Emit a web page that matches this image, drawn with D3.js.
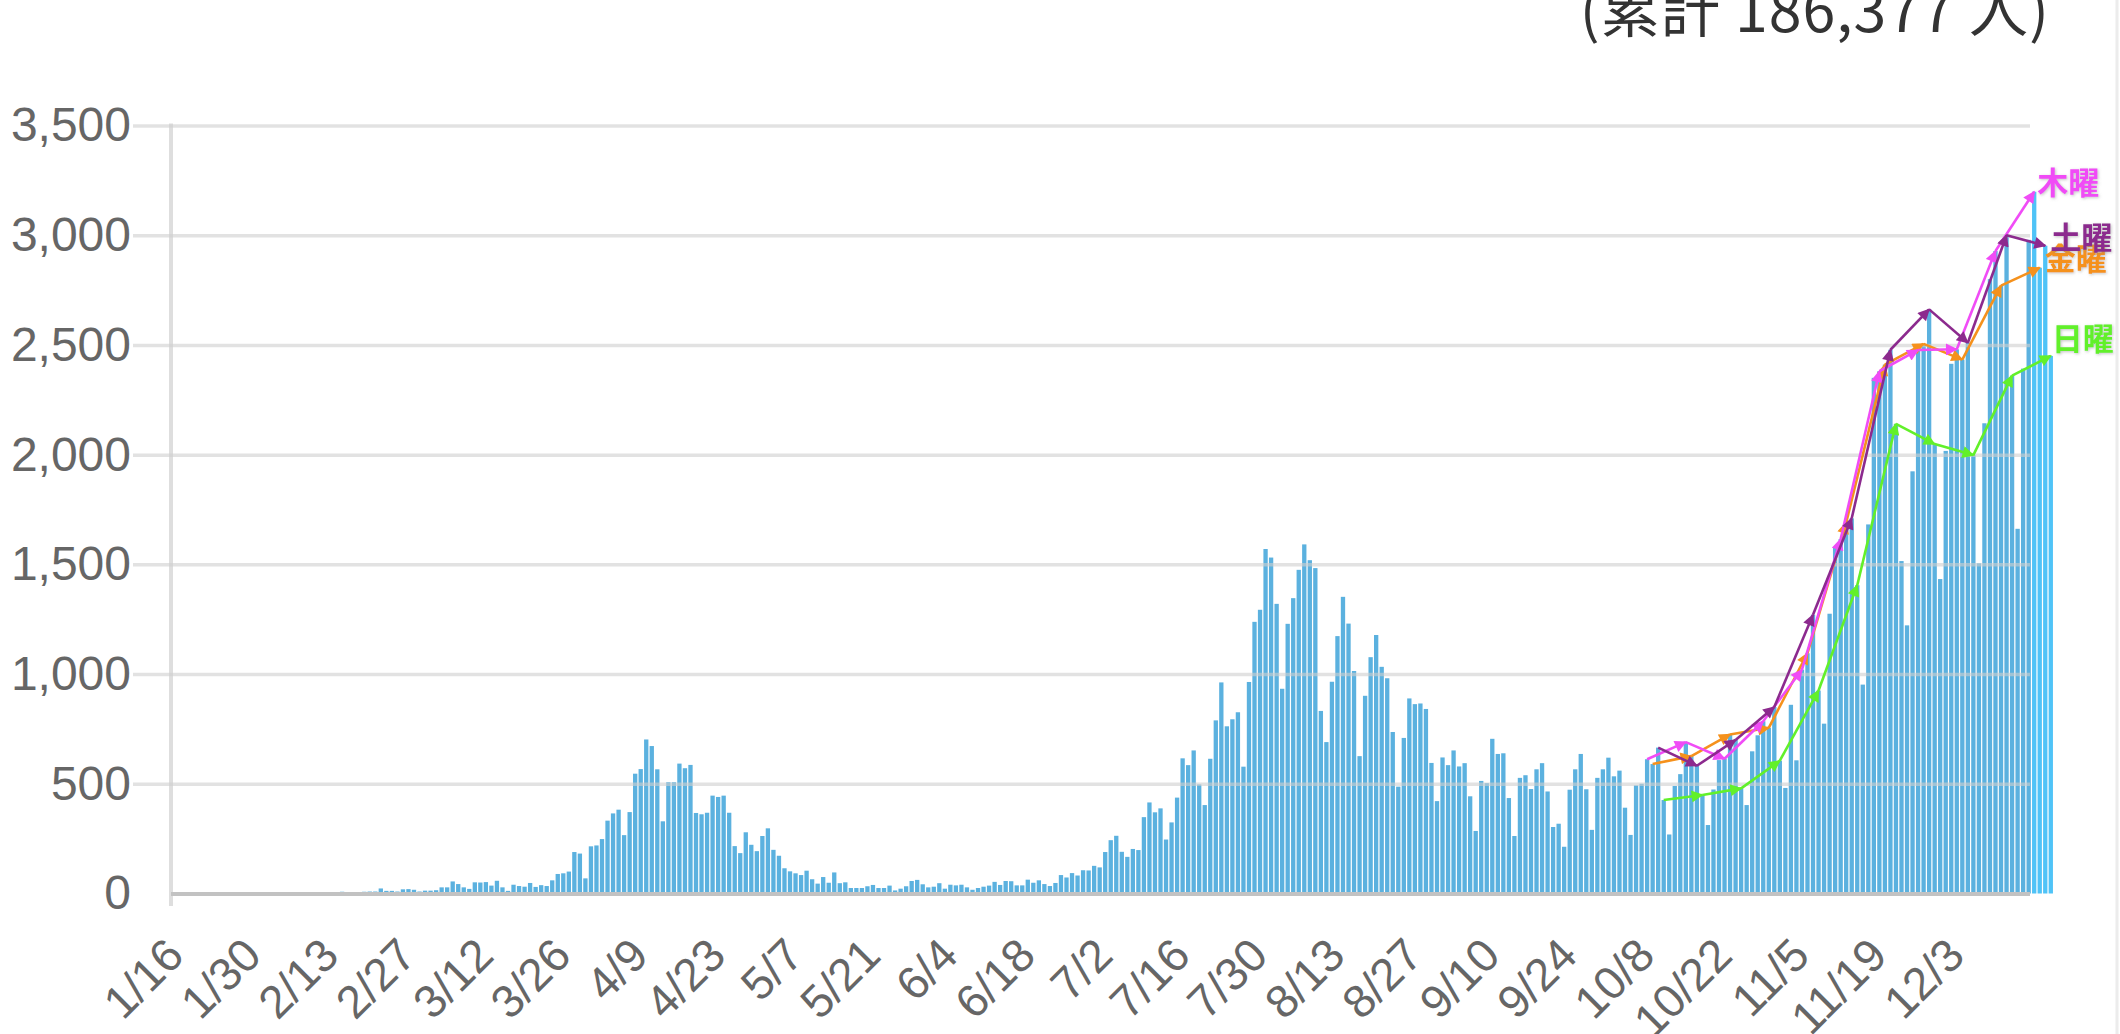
<!DOCTYPE html>
<html>
<head>
<meta charset="utf-8">
<script src="https://cdn.jsdelivr.net/npm/d3@7"></script>
<style>
  body { margin: 0; background: #fff; }
  svg { display: block; font-family: "Liberation Sans", Arial, sans-serif; }
</style>
</head>
<body>
<div id="chart"></div>
<script>
// set the dimensions of the page
const width = 2120
const height = 1034

// first day of the series
const startDate = new Date(2020, 0, 16)

// daily new cases, one value per day from 1/16
const dailyCases = [
    1, 0, 0, 0, 0, 0, 0, 0, 1, 1,
    1, 0, 3, 1, 3, 2, 2, 0, 0, 2,
    0, 0, 1, 0, 0, 1, 0, 1, 3, 5,
    8, 5, 6, 6, 8, 9, 9, 23, 12, 12,
    9, 19, 20, 17, 9, 13, 13, 15, 28, 28,
    55, 43, 28, 21, 51, 50, 52, 36, 58, 28,
    12, 40, 34, 31, 48, 30, 38, 34, 60, 89,
    92, 100, 189, 182, 69, 215, 219, 248, 332, 365,
    382, 266, 371, 546, 567, 702, 672, 566, 329, 507,
    507, 592, 571, 586, 367, 361, 368, 446, 440, 446,
    368, 216, 184, 279, 222, 193, 262, 297, 199, 172,
    115, 101, 92, 84, 104, 65, 45, 75, 49, 96,
    47, 51, 25, 25, 25, 33, 39, 25, 25, 36,
    14, 22, 33, 57, 62, 42, 28, 31, 47, 22,
    40, 37, 40, 28, 17, 25, 31, 36, 53, 39,
    57, 56, 37, 37, 63, 49, 60, 43, 34, 48,
    84, 73, 93, 82, 106, 105, 126, 119, 189, 243,
    263, 190, 167, 203, 198, 348, 415, 370, 388, 246,
    324, 437, 616, 585, 652, 497, 403, 614, 789, 962,
    762, 794, 826, 578, 964, 1238, 1293, 1570, 1531, 1320,
    933, 1229, 1346, 1475, 1591, 1519, 1483, 832, 690, 965,
    1173, 1352, 1230, 1014, 626, 901, 1077, 1178, 1033, 981,
    736, 487, 709, 889, 863, 866, 841, 595, 421, 620,
    585, 652, 579, 594, 443, 285, 513, 503, 705, 636,
    639, 435, 262, 527, 539, 476, 566, 594, 465, 303,
    318, 213, 473, 566, 636, 475, 290, 527, 566, 619,
    534, 560, 391, 267, 493, 500, 612, 590, 665, 426,
    269, 490, 544, 690, 626, 582, 449, 312, 474, 608,
    614, 725, 700, 479, 403, 648, 721, 785, 755, 850,
    605, 481, 860, 607, 1020, 1095, 1270, 925, 774, 1275,
    1577, 1615, 1690, 1710, 1405, 952, 1682, 2350, 2380, 2410,
    2478, 2140, 1515, 1222, 1924, 2477, 2505, 2662, 2048, 1433,
    2017, 2414, 2480, 2433, 2510, 1998, 1505, 2143, 2800, 2928,
    2770, 3000, 2360, 1662, 2392, 2979, 3198, 2852, 2952, 2450
]

// x axis labels, every two weeks
const tickLabels = ["1/16", "1/30", "2/13", "2/27", "3/12", "3/26", "4/9", "4/23",
    "5/7", "5/21", "6/4", "6/18", "7/2", "7/16", "7/30", "8/13", "8/27", "9/10",
    "9/24", "10/8", "10/22", "11/5", "11/19", "12/3"]

// y axis ticks
const yTicks = [0, 500, 1000, 1500, 2000, 2500, 3000, 3500]

// weekday comparison lines, drawn from 10/8
const weekdayNames = ["木曜", "金曜", "土曜", "日曜"]
const weekdayNumbers = [4, 5, 6, 0]
const lineStart = new Date(2020, 9, 8)

// the last few days are shown in a brighter colour
const recentDays = 4

const title = "(累計 186,377 人)"

// styles
const barColor = "#5bb1df"
const recentColor = "#4fc3f7"
const lineColors = { "木曜": "#f04cf6", "金曜": "#f5911c", "土曜": "#8c2a8e", "日曜": "#62f02a" }
const labelOffset = { "木曜": [3, 2], "金曜": [5, 2], "土曜": [5, 3], "日曜": [1, -6] }
const gridRight = 2030

const svg = d3.select("#chart")
    .append("svg")
    .attr("width", width)
    .attr("height", height)

const dates = dailyCases.map((d, i) => d3.timeDay.offset(startDate, i))

// scales
const x = d3.scaleBand()
    .domain(d3.range(dailyCases.length))
    .range([173.5, 2053.5])
    .paddingInner(0.22)
    .paddingOuter(0.1)

const y = d3.scaleLinear()
    .domain([0, 3500])
    .range([893.5, 125.5])

// vertical axis line
svg.append("line")
    .attr("x1", 171).attr("x2", 171)
    .attr("y1", y(3500) - 2).attr("y2", 906)
    .attr("stroke", "#dedede")
    .attr("stroke-width", 4)

// frame line on the right
svg.append("line")
    .attr("x1", 2117).attr("x2", 2117)
    .attr("y1", 0).attr("y2", height)
    .attr("stroke", "#ececec")
    .attr("stroke-width", 3)

// bars
svg.append("g")
    .selectAll("rect")
    .data(dailyCases)
    .join("rect")
    .attr("x", (d, i) => x(i))
    .attr("width", x.bandwidth())
    .attr("y", d => y(d))
    .attr("height", d => y(0) - y(d))
    .attr("fill", (d, i) => i >= dailyCases.length - recentDays ? recentColor : barColor)

// gridlines and y labels
const yAxis = svg.append("g")
    .attr("transform", "translate(" + gridRight + ",0)")
    .call(d3.axisLeft(y)
        .tickValues(yTicks)
        .tickSize(gridRight - 133)
        .tickPadding(4)
        .tickFormat(d3.format(",")))

yAxis.select(".domain").remove()
yAxis.selectAll(".tick line")
    .attr("stroke", d => d === 0 ? "#c2c2c2" : "#cfcfcf")
    .attr("stroke-opacity", d => d === 0 ? 1 : 0.6)
    .attr("stroke-width", d => d === 0 ? 4 : 3.5)
yAxis.selectAll(".tick line").filter(d => d === 0)
    .attr("x2", -(gridRight - 171))
yAxis.selectAll(".tick text")
    .attr("x", -(gridRight - 131))
    .attr("font-size", 48)
    .attr("fill", "#666")
    .attr("font-family", "'Liberation Sans', Arial, sans-serif")

// x labels
const tickIndex = tickLabels.map(t => {
    const [m, d] = t.split("/").map(Number)
    return d3.timeDay.count(startDate, new Date(2020, m - 1, d))
})

svg.append("g")
    .selectAll("text")
    .data(tickLabels)
    .join("text")
    .attr("transform", (d, k) => "translate(" + (x(tickIndex[k]) + x.bandwidth() / 2 + 10) + ",958) rotate(-45)")
    .attr("text-anchor", "end")
    .attr("font-size", 46)
    .attr("fill", "#666")
    .text(d => d)

// arrow heads
const defs = svg.append("defs")
weekdayNames.forEach(name => {
    defs.append("marker")
        .attr("id", "arrow-" + weekdayNumbers[weekdayNames.indexOf(name)])
        .attr("viewBox", "0 0 10 10")
        .attr("refX", 9)
        .attr("refY", 5)
        .attr("markerUnits", "userSpaceOnUse")
        .attr("markerWidth", 14)
        .attr("markerHeight", 12)
        .attr("orient", "auto")
        .append("path")
        .attr("d", "M0,0 L10,5 L0,10 z")
        .attr("fill", lineColors[name])
})

const shadow = defs.append("filter")
    .attr("id", "glow")
    .attr("x", "-20%").attr("y", "-20%")
    .attr("width", "140%").attr("height", "140%")
shadow.append("feDropShadow")
    .attr("dx", 1).attr("dy", 1)
    .attr("stdDeviation", 1.5)
    .attr("flood-color", "#888")
    .attr("flood-opacity", 0.5)

// weekday lines, drawn from the same daily values
const lineOrder = ["日曜", "金曜", "木曜", "土曜"]
lineOrder.forEach(name => {
    const wd = weekdayNumbers[weekdayNames.indexOf(name)]
    const pts = dailyCases
        .map((v, i) => ({ i: i, v: v, date: dates[i] }))
        .filter(p => p.date >= lineStart && p.date.getDay() === wd)
        .map(p => [x(p.i) + x.bandwidth() / 2, y(p.v)])

    const segs = d3.pairs(pts)
    svg.append("g")
        .selectAll("line")
        .data(segs)
        .join("line")
        .attr("x1", d => d[0][0])
        .attr("y1", d => d[0][1])
        .attr("x2", d => d[1][0])
        .attr("y2", d => d[1][1])
        .attr("stroke", lineColors[name])
        .attr("stroke-width", 2.6)
        .attr("marker-end", "url(#arrow-" + wd + ")")
})

// weekday labels at the end of each line
const labelOrder = ["木曜", "金曜", "土曜", "日曜"]
labelOrder.forEach(name => {
    const wd = weekdayNumbers[weekdayNames.indexOf(name)]
    let last = 0
    dailyCases.forEach((v, i) => { if (dates[i].getDay() === wd) last = i })
    svg.append("text")
        .attr("x", x(last) + x.bandwidth() / 2 + labelOffset[name][0])
        .attr("y", y(dailyCases[last]) + labelOffset[name][1])
        .attr("font-family", "'Noto Sans CJK JP', sans-serif")
        .attr("font-weight", "bold")
        .attr("font-size", 31)
        .attr("fill", lineColors[name])
        .attr("filter", "url(#glow)")
        .text(name)
})

// total at the top right, partly cut by the page edge
svg.append("text")
    .attr("x", 2050)
    .attr("y", 32)
    .attr("text-anchor", "end")
    .attr("font-family", "'Noto Sans CJK JP', sans-serif")
    .attr("font-size", 59)
    .attr("letter-spacing", 1)
    .attr("fill", "#333")
    .text(title)
</script>
</body>
</html>
